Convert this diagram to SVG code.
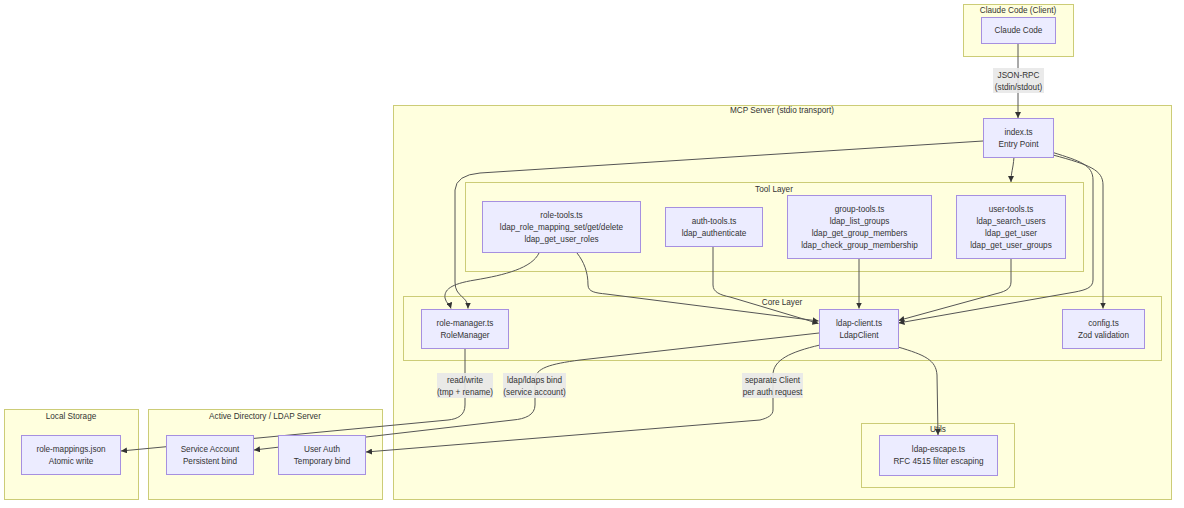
<svg xmlns="http://www.w3.org/2000/svg" width="1184" height="508" viewBox="0 0 1184 508">
  <style>
    .cluster { fill: #ffffde; stroke: #cccc77; stroke-width: 1; }
    .node { fill: #ececff; stroke: #a690e0; stroke-width: 1; }
    .edge { fill: none; stroke: #555555; stroke-width: 1; }
    .lblbg { fill: #e8e8e8; fill-opacity: 0.9; }
    text { font-family: "Liberation Sans", Arial, sans-serif; font-size: 8.2px; fill: #333333; text-anchor: middle; dominant-baseline: central; }
  </style>
  <defs>
    <marker id="arrow" viewBox="0 0 10 10" refX="10" refY="5" markerUnits="userSpaceOnUse" markerWidth="6" markerHeight="6" orient="auto">
      <path d="M0,0 L10,5 L0,10 z" fill="#333333"/>
    </marker>
  </defs>
  <rect width="1184" height="508" fill="#ffffff"/>

  <!-- subgraph frames -->
  <g id="clusters">
    <g id="cluster-client">
      <rect class="cluster" x="963.5" y="4.5" width="110" height="52"/>
      <text x="1018" y="10.5">Claude Code (Client)</text>
    </g>
    <g id="cluster-mcp">
      <rect class="cluster" x="393.5" y="105.5" width="778" height="394"/>
      <text x="782" y="110.5">MCP Server (stdio transport)</text>
    </g>
    <g id="cluster-tools">
      <rect class="cluster" x="465.5" y="182.5" width="618" height="89"/>
      <text x="774" y="189">Tool Layer</text>
    </g>
    <g id="cluster-core">
      <rect class="cluster" x="403.5" y="296.5" width="758" height="64"/>
      <text x="782" y="302">Core Layer</text>
    </g>
    <g id="cluster-utils">
      <rect class="cluster" x="861.5" y="423.5" width="153" height="64"/>
      <text x="938" y="429">Utils</text>
    </g>
    <g id="cluster-storage">
      <rect class="cluster" x="4.5" y="409.5" width="134" height="90"/>
      <text x="71" y="416">Local Storage</text>
    </g>
    <g id="cluster-ad">
      <rect class="cluster" x="148.5" y="409.5" width="234" height="90"/>
      <text x="265" y="416">Active Directory / LDAP Server</text>
    </g>
  </g>

  <!-- connectors -->
  <g id="edges">
    <path class="edge" marker-end="url(#arrow)" d="M1018,43 L1018,118"/>
    <path class="edge" marker-end="url(#arrow)" d="M1014,157 C1013,170 1011,172 1011,182"/>
    <path class="edge" marker-end="url(#arrow)" d="M983,141 L480,173 Q456,175 455,190 L455,282 C455,298 468,295 468,308.5"/>
    <path class="edge" marker-end="url(#arrow)" d="M539,253 C532,268 505,275 475,280 C450,284 444,290 445,298 C446,303 450,305 451,308.5"/>
    <path class="edge" marker-end="url(#arrow)" d="M577,253 C584,262 588,272 588,285 C588,292 596,293 606,294 L818.5,321"/>
    <path class="edge" marker-end="url(#arrow)" d="M713,246 L713,285 C713,292 720,295 730,297 L818.5,323.5"/>
    <path class="edge" marker-end="url(#arrow)" d="M859,258 L859,308.5"/>
    <path class="edge" marker-end="url(#arrow)" d="M1011,258 L1011,282 C1011,290 1003,292 995,294 L898.5,320.5"/>
    <path class="edge" marker-end="url(#arrow)" d="M1053,152.5 C1080,161 1093,165 1093,180 L1093,280 C1093,288 1085,290 1075,292 L898.5,323"/>
    <path class="edge" marker-end="url(#arrow)" d="M1053,155 C1090,165 1103,170 1103,185 L1103,308.5"/>
    <path class="edge" marker-end="url(#arrow)" d="M465,348 L465,405 C465,415 458,419 448,420 L121,451"/>
    <path class="edge" marker-end="url(#arrow)" d="M819,333 L580,360 C550,364 535,368 535,380 L535,405 C535,415 525,419 513,420 L254,450"/>
    <path class="edge" marker-end="url(#arrow)" d="M820,345 C790,352 773,360 773,375 L773,410 C773,415 768,418 760,420 L366,452"/>
    <path class="edge" marker-end="url(#arrow)" d="M898,347 C925,355 936,360 937,375 L938,435"/>
  </g>

  <!-- connector labels -->
  <g id="edge-labels">
    <g id="label-jsonrpc">
      <rect class="lblbg" x="993" y="68" width="51" height="25"/>
      <text x="1018.5" y="75">JSON-RPC</text>
      <text x="1018.5" y="87">(stdin/stdout)</text>
    </g>
    <g id="label-readwrite">
      <rect class="lblbg" x="437" y="373" width="56" height="25"/>
      <text x="465" y="380">read/write</text>
      <text x="465" y="392">(tmp + rename)</text>
    </g>
    <g id="label-bind">
      <rect class="lblbg" x="503" y="373" width="63" height="25"/>
      <text x="534.5" y="380">ldap/ldaps bind</text>
      <text x="534.5" y="392">(service account)</text>
    </g>
    <g id="label-separate">
      <rect class="lblbg" x="742" y="373" width="61" height="25"/>
      <text x="772.5" y="380">separate Client</text>
      <text x="772.5" y="392">per auth request</text>
    </g>
  </g>

  <!-- nodes -->
  <g id="node-claude">
    <rect class="node" x="981.5" y="17.5" width="74" height="26"/>
    <text x="1018.5" y="30.5">Claude Code</text>
  </g>
  <g id="node-index">
    <rect class="node" x="983.5" y="118.5" width="70" height="39"/>
    <text x="1018.5" y="132">index.ts</text>
    <text x="1018.5" y="144">Entry Point</text>
  </g>
  <g id="node-role-tools">
    <rect class="node" x="482.5" y="201.5" width="158" height="51"/>
    <text x="561.5" y="215">role-tools.ts</text>
    <text x="561.5" y="227">ldap_role_mapping_set/get/delete</text>
    <text x="561.5" y="239">ldap_get_user_roles</text>
  </g>
  <g id="node-auth-tools">
    <rect class="node" x="665.5" y="207.5" width="97" height="39"/>
    <text x="714" y="221">auth-tools.ts</text>
    <text x="714" y="233">ldap_authenticate</text>
  </g>
  <g id="node-group-tools">
    <rect class="node" x="787.5" y="195.5" width="144" height="63"/>
    <text x="859.5" y="209">group-tools.ts</text>
    <text x="859.5" y="221">ldap_list_groups</text>
    <text x="859.5" y="233">ldap_get_group_members</text>
    <text x="859.5" y="245">ldap_check_group_membership</text>
  </g>
  <g id="node-user-tools">
    <rect class="node" x="956.5" y="195.5" width="109" height="63"/>
    <text x="1011" y="209">user-tools.ts</text>
    <text x="1011" y="221">ldap_search_users</text>
    <text x="1011" y="233">ldap_get_user</text>
    <text x="1011" y="245">ldap_get_user_groups</text>
  </g>
  <g id="node-role-manager">
    <rect class="node" x="421.5" y="309.5" width="87" height="39"/>
    <text x="465" y="323">role-manager.ts</text>
    <text x="465" y="335">RoleManager</text>
  </g>
  <g id="node-ldap-client">
    <rect class="node" x="819.5" y="309.5" width="79" height="39"/>
    <text x="859" y="323">ldap-client.ts</text>
    <text x="859" y="335">LdapClient</text>
  </g>
  <g id="node-config">
    <rect class="node" x="1062.5" y="309.5" width="82" height="39"/>
    <text x="1103.5" y="323">config.ts</text>
    <text x="1103.5" y="335">Zod validation</text>
  </g>
  <g id="node-ldap-escape">
    <rect class="node" x="879.5" y="435.5" width="118" height="40"/>
    <text x="938.5" y="449.5">ldap-escape.ts</text>
    <text x="938.5" y="461.5">RFC 4515 filter escaping</text>
  </g>
  <g id="node-role-mappings">
    <rect class="node" x="21.5" y="435.5" width="99" height="39"/>
    <text x="71" y="449">role-mappings.json</text>
    <text x="71" y="461">Atomic write</text>
  </g>
  <g id="node-service-account">
    <rect class="node" x="166.5" y="435.5" width="87" height="39"/>
    <text x="210" y="449">Service Account</text>
    <text x="210" y="461">Persistent bind</text>
  </g>
  <g id="node-user-auth">
    <rect class="node" x="278.5" y="435.5" width="87" height="39"/>
    <text x="322" y="449">User Auth</text>
    <text x="322" y="461">Temporary bind</text>
  </g>
</svg>
